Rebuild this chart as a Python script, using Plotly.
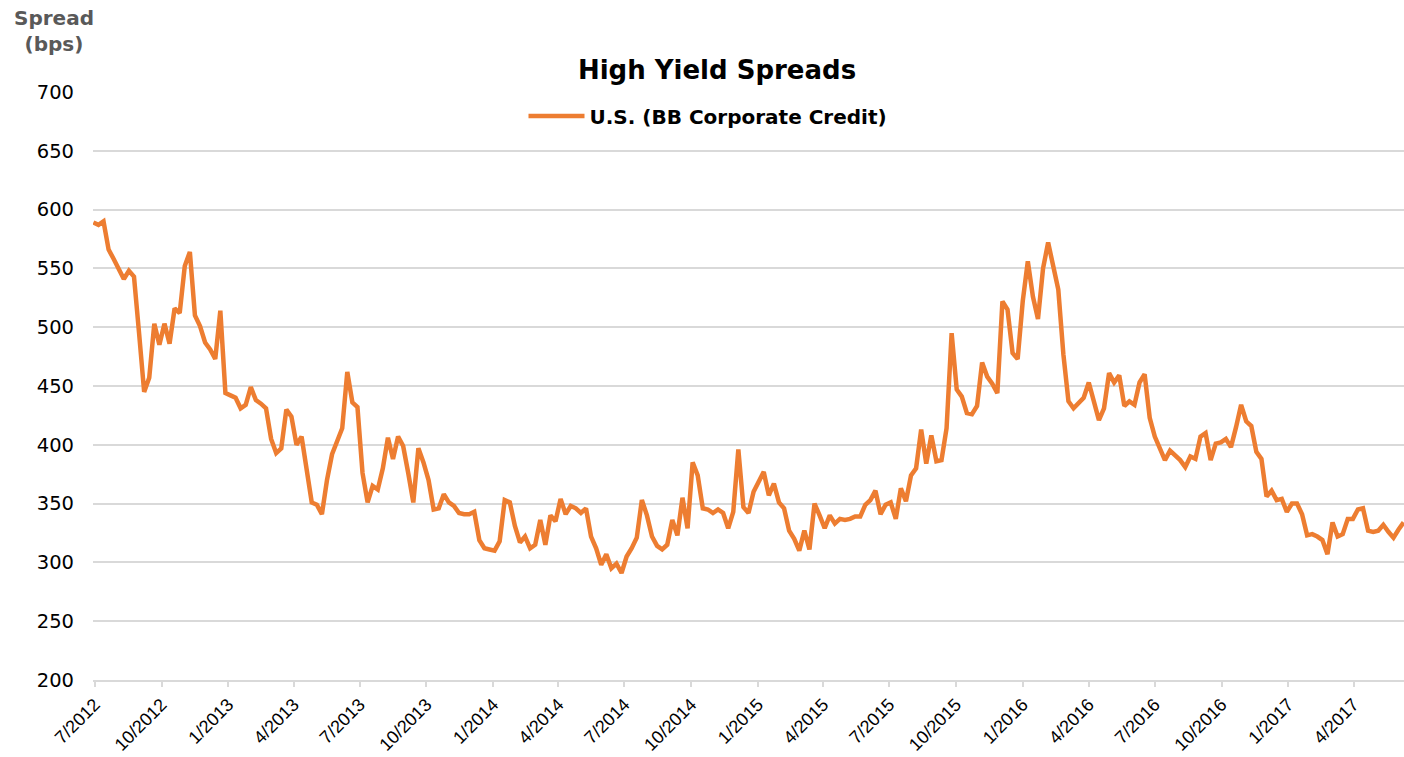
import pandas as pd
import plotly.graph_objects as go

# ---- data (weekly) ----
start_date = "2012-06-29"
spread_bps = [
    589, 587, 590, 566, 558, 550, 541, 548, 543, 495,
    445, 457, 503, 485, 503, 486, 516, 512, 552, 564,
    510, 501, 487, 481, 473, 514, 444, 442, 440, 431,
    434, 449, 438, 435, 431, 405, 393, 397, 430, 424,
    400, 407, 381, 351, 349, 341, 370, 392, 403, 414,
    462, 436, 432, 376, 351, 365, 362, 380, 406, 388,
    407, 399, 376, 351, 397, 385, 370, 345, 346, 358,
    351, 348, 342, 341, 341, 343, 319, 312, 311, 310,
    318, 353, 351, 331, 317, 322, 312, 315, 336, 315,
    340, 335, 354, 341, 348, 346, 342, 346, 322, 312,
    298, 307, 295, 299, 291, 305, 312, 321, 353, 340,
    322, 314, 311, 315, 336, 323, 355, 329, 385, 374,
    346, 345, 342, 345, 342, 329, 343, 396, 347, 342,
    360, 369, 377, 357, 367, 351, 346, 327, 320, 310,
    327, 311, 350, 340, 329, 340, 333, 337, 336, 337,
    339, 339, 349, 353, 361, 341, 349, 351, 337, 363,
    352, 374, 380, 413, 384, 408, 386, 387, 414, 495,
    447, 441, 427, 426, 433, 470, 458, 452, 444, 522,
    515, 478, 473, 522, 556, 526, 507, 550, 572, 552,
    532, 477, 437, 431, 435, 440, 453, 438, 421, 431,
    461, 453, 459, 433, 437, 434, 453, 460, 423, 407,
    398, 387, 395, 391, 387, 381, 390, 388, 407, 410,
    387, 401, 402, 405, 398, 415, 434, 420, 416, 394,
    388, 356, 361, 353, 354, 343, 350, 350, 341, 323,
    324, 322, 319, 307, 334, 322, 324, 337, 337, 345,
    346, 327, 326, 327, 332, 326, 321, 328, 334,
]
dates = pd.date_range(start_date, periods=len(spread_bps), freq="7D")

series_name = "U.S. (BB Corporate Credit)"
chart_title = "High Yield Spreads"
y_title = "Spread<br>(bps)"
y_ticks = [200, 250, 300, 350, 400, 450, 500, 550, 600, 650, 700]

FONT = "DejaVu Sans"
TICKFONT_X = "Liberation Sans, Arial, sans-serif"
ORANGE = "#ED7D31"
GRID = "#D9D9D9"

fig = go.Figure()
fig.add_trace(go.Scatter(
    x=dates, y=spread_bps, mode="lines", name="<b>" + series_name + "</b>",
    line=dict(color=ORANGE, width=4.5),
))

fig.update_layout(
    width=1404, height=757,
    margin=dict(l=93, r=0, t=92, b=77, autoexpand=False),
    paper_bgcolor="white", plot_bgcolor="white",
    font=dict(family=FONT, color="black"),
    title=dict(text="<b>" + chart_title + "</b>", xref="container", yref="container",
               x=717 / 1404, y=1 - 70 / 757, xanchor="center", yanchor="middle",
               font=dict(family=FONT, size=26, color="black")),
    showlegend=True,
    legend=dict(orientation="h", xref="paper", yref="paper",
                x=(708 - 93) / 1311, y=(680 - 116) / 588,
                xanchor="center", yanchor="middle",
                bgcolor="rgba(0,0,0,0)", itemwidth=56,
                font=dict(family=FONT, size=20, color="black")),
    xaxis=dict(
        type="date", automargin=False,
        range=["2012-06-28 12:00", "2017-06-09 12:00"],
        tick0="2012-07-01", dtick="M3", tickformat="%-m/%Y",
        tickangle=-45,
        showgrid=False, zeroline=False,
        showline=True, linecolor=GRID, linewidth=2,
        ticks="outside", ticklen=5, tickwidth=2, tickcolor=GRID,
        ticklabelstandoff=0,
        tickfont=dict(family=TICKFONT_X, size=18, color="black"),
    ),
    yaxis=dict(
        automargin=False,
        range=[200, 700], tickvals=y_ticks,
        showgrid=True, gridcolor=GRID, gridwidth=2,
        zeroline=False, showline=False,
        ticks="", ticklabelstandoff=18,
        tickfont=dict(family=FONT, size=19.5, color="black"),
    ),
    annotations=[dict(
        text="<b>" + y_title + "</b>", xref="paper", yref="paper",
        x=(54 - 93) / 1311, y=(680 - 4) / 588, xanchor="center", yanchor="top",
        showarrow=False, align="center",
        font=dict(family=FONT, size=20, color="#595959"),
    )],
)

fig.write_html(
    "out.html",
    config={"displayModeBar": False},
    post_script="document.body.style.margin='0';document.body.style.padding='0';"
                "document.body.style.overflow='hidden';",
)
